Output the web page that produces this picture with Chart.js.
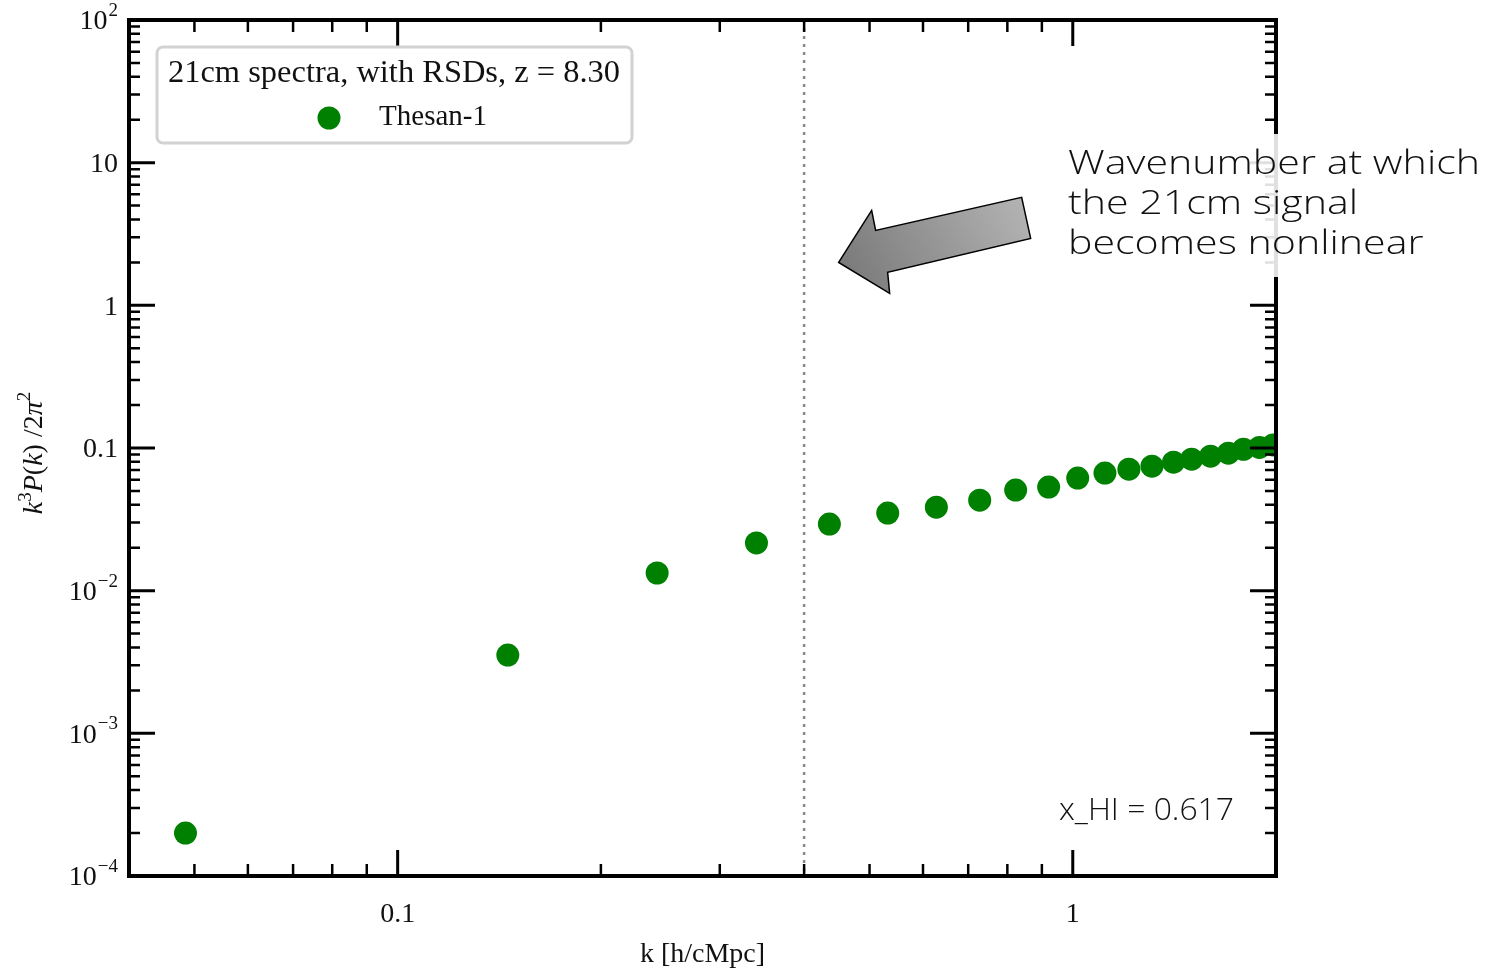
<!DOCTYPE html>
<html>
<head>
<meta charset="utf-8">
<script src="https://cdn.jsdelivr.net/npm/chart.js"></script>
<style>
  html, body { margin: 0; padding: 0; background: #fff; }
  #wrap { width: 1489px; height: 973px; }
</style>
</head>
<body>
<div id="wrap"><canvas id="psChart"></canvas></div>
<script>
// values
const kValues = [0.0485, 0.1456, 0.2423, 0.340, 0.436, 0.532, 0.628, 0.728, 0.823, 0.921,
                 1.017, 1.116, 1.211, 1.31, 1.41, 1.50, 1.60, 1.70, 1.79, 1.89, 1.98];
const powerValues = [2.0e-4, 3.54e-3, 0.0133, 0.0216, 0.0293, 0.035, 0.0385, 0.0431, 0.0507, 0.0532,
                     0.0615, 0.0667, 0.0711, 0.0746, 0.0796, 0.0835, 0.0877, 0.092, 0.098, 0.101, 0.105];
const xTickValues = [0.1, 1];
const xTickLabels = ['0.1', '1'];
const yTickValues = [1e-4, 1e-3, 1e-2, 0.1, 1, 10, 100];
const yTickLabels = [['10', '−4'], ['10', '−3'], ['10', '−2'], ['0.1', ''], ['1', ''], ['10', ''], ['10', '2']];
const nonlinearK = 0.4;
const arrowTip = { k: 0.45, p: 2.0 };
const seriesName = 'Thesan-1';
const legendTitle = '21cm spectra, with RSDs, z = 8.30';
const noteLines = ['Wavenumber at which', 'the 21cm signal', 'becomes nonlinear'];
const xhiText = 'x_HI = 0.617';

const SERIF = '"Liberation Serif", "DejaVu Serif", serif';
const SANS = '"Open Sans", "DejaVu Sans", sans-serif';

// pick a font size so the text spans the wanted width
function fitFont(ctx, text, family, width, style) {
    ctx.font = (style || '') + ' 100px ' + family;
    const size = 100 * width / ctx.measureText(text).width;
    return (style || '') + ' ' + size.toFixed(1) + 'px ' + family;
}

// draw text at a fixed size, squeezed or stretched sideways to a width
function fillStretched(ctx, text, x, y, font, sx) {
    ctx.save();
    ctx.font = font;
    ctx.translate(x, y);
    ctx.scale(sx, 1);
    ctx.fillText(text, 0, 0);
    ctx.restore();
}

function logTicks(min, max) {
    const out = [];
    for (let e = Math.floor(Math.log10(min)); e <= Math.ceil(Math.log10(max)); e++) {
        for (let m = 1; m <= 9; m++) {
            const v = m * Math.pow(10, e);
            if (v >= min * 0.999 && v <= max * 1.001) out.push({ v: v, major: m === 1 });
        }
    }
    return out;
}

const framePlugin = {
    id: 'frame',
    beforeDatasetsDraw(chart) {
        const { ctx, chartArea: a, scales } = chart;
        // dotted line where the signal becomes nonlinear
        const xl = scales.x.getPixelForValue(nonlinearK);
        ctx.save();
        ctx.strokeStyle = '#8a8a8a';
        ctx.lineWidth = 2.5;
        ctx.setLineDash([3, 5]);
        ctx.beginPath();
        ctx.moveTo(xl, a.top);
        ctx.lineTo(xl, a.bottom);
        ctx.stroke();
        ctx.restore();
    },
    afterDatasetsDraw(chart) {
        const { ctx, chartArea: a, scales } = chart;
        const x = scales.x, y = scales.y;
        ctx.save();

        // inward ticks on all four sides
        ctx.strokeStyle = '#000';
        logTicks(x.min, x.max).forEach(t => {
            const px = x.getPixelForValue(t.v);
            const len = t.major ? 26 : 12;
            ctx.lineWidth = t.major ? 3 : 2.5;
            ctx.beginPath();
            ctx.moveTo(px, a.bottom); ctx.lineTo(px, a.bottom - len);
            ctx.moveTo(px, a.top); ctx.lineTo(px, a.top + len);
            ctx.stroke();
        });
        logTicks(y.min, y.max).forEach(t => {
            const py = y.getPixelForValue(t.v);
            const len = t.major ? 26 : 11;
            ctx.lineWidth = t.major ? 3 : 2.5;
            ctx.beginPath();
            ctx.moveTo(a.left, py); ctx.lineTo(a.left + len, py);
            ctx.moveTo(a.right, py); ctx.lineTo(a.right - len, py);
            ctx.stroke();
        });

        // frame
        ctx.lineWidth = 4;
        ctx.strokeRect(a.left, a.top, a.right - a.left, a.bottom - a.top);

        // tick labels
        ctx.fillStyle = '#111';
        ctx.textBaseline = 'middle';
        ctx.textAlign = 'center';
        ctx.font = '28px ' + SERIF;
        xTickValues.forEach((v, i) => {
            ctx.fillText(xTickLabels[i], x.getPixelForValue(v), a.bottom + 39);
        });
        ctx.textAlign = 'left';
        const labelRight = a.left - 11;
        yTickValues.forEach((v, i) => {
            const py = y.getPixelForValue(v);
            const [base, sup] = yTickLabels[i];
            ctx.font = '19px ' + SERIF;
            const ws = sup ? ctx.measureText(sup).width + 1 : 0;
            ctx.font = '28px ' + SERIF;
            const wb = ctx.measureText(base).width;
            ctx.fillText(base, labelRight - ws - wb, py + 2);
            if (sup) {
                ctx.font = '19px ' + SERIF;
                ctx.fillText(sup, labelRight - ws + 1, py - 9);
            }
        });

        // axis titles
        ctx.textAlign = 'center';
        ctx.font = '28px ' + SERIF;
        ctx.fillText('k [h/cMpc]', (a.left + a.right) / 2, 955);

        const parts = [
            ['k', 'italic 28px', 0], ['3', '19px', -9], ['P', 'italic 28px', 0], ['(', '28px', 0],
            ['k', 'italic 28px', 0], [')', '28px', 0], [' /', '28px', 0], ['2', '28px', 0],
            ['π', 'italic 28px', 0], ['2', '19px', -10]
        ];
        let total = 0;
        parts.forEach(p => { ctx.font = p[1] + ' ' + SERIF; total += ctx.measureText(p[0]).width; });
        ctx.save();
        ctx.translate(35, (a.top + a.bottom) / 2 + 5);
        ctx.rotate(-Math.PI / 2);
        ctx.textAlign = 'left';
        let cx = -total / 2;
        parts.forEach(p => {
            ctx.font = p[1] + ' ' + SERIF;
            ctx.fillText(p[0], cx, p[2]);
            cx += ctx.measureText(p[0]).width;
        });
        ctx.restore();

        // legend box
        const lg = { l: 157, t: 47, r: 632, b: 143 };
        ctx.beginPath();
        ctx.roundRect(lg.l, lg.t, lg.r - lg.l, lg.b - lg.t, 6);
        ctx.fillStyle = 'rgba(255,255,255,0.85)';
        ctx.fill();
        ctx.strokeStyle = '#d2d2d2';
        ctx.lineWidth = 3;
        ctx.stroke();
        ctx.fillStyle = '#111';
        ctx.textAlign = 'left';
        ctx.font = '31px ' + SERIF;
        fillStretched(ctx, legendTitle, 168, 74, '31px ' + SERIF, 452 / ctx.measureText(legendTitle).width);
        ctx.beginPath();
        ctx.arc(329, 118, 11.5, 0, Math.PI * 2);
        ctx.fillStyle = chart.data.datasets[0].backgroundColor;
        ctx.fill();
        ctx.fillStyle = '#111';
        ctx.font = '29px ' + SERIF;
        fillStretched(ctx, seriesName, 379, 117, '29px ' + SERIF, 108 / ctx.measureText(seriesName).width);

        // arrow pointing at the nonlinear scale
        const tx = x.getPixelForValue(arrowTip.k), ty = y.getPixelForValue(arrowTip.p);
        const shape = [[0, 0], [33, -52], [37, -32], [183, -65], [192, -24], [49, 10], [51, 31]];
        const grad = ctx.createLinearGradient(tx + 20, ty + 30, tx + 190, ty - 65);
        grad.addColorStop(0, '#7b7b7b');
        grad.addColorStop(1, '#b5b5b5');
        ctx.beginPath();
        shape.forEach((s, i) => i ? ctx.lineTo(tx + s[0], ty + s[1]) : ctx.moveTo(tx + s[0], ty + s[1]));
        ctx.closePath();
        ctx.fillStyle = grad;
        ctx.fill();
        ctx.strokeStyle = '#000';
        ctx.lineWidth = 1.5;
        ctx.stroke();

        // annotation text with a white backing box
        ctx.fillStyle = 'rgba(255,255,255,0.88)';
        ctx.fillRect(1062, 134, 427, 143);
        ctx.fillStyle = '#111';
        ctx.textBaseline = 'alphabetic';
        const noteFont = '300 33px ' + SANS;
        ctx.font = noteFont;
        const noteScale = 412 / ctx.measureText(noteLines[0]).width;
        noteLines.forEach((line, i) => fillStretched(ctx, line, 1068, 174 + 40 * i, noteFont, noteScale));

        const xhiFont = '300 31px ' + SANS;
        ctx.font = xhiFont;
        const xhiW = ctx.measureText(xhiText).width;
        fillStretched(ctx, xhiText, 1234 - 175, 820, xhiFont, 175 / xhiW);

        ctx.restore();
    }
};

new Chart(document.getElementById('psChart').getContext('2d'), {
    type: 'scatter',
    data: {
        datasets: [{
            label: seriesName,
            data: kValues.map((k, i) => ({ x: k, y: powerValues[i] })),
            backgroundColor: '#008000',
            borderWidth: 0,
            pointRadius: 11.5,
            clip: 0
        }]
    },
    options: {
        responsive: true,
        maintainAspectRatio: false,
        animation: false,
        layout: { padding: { left: 129, top: 20, right: 213, bottom: 97 } },
        plugins: { legend: { display: false }, tooltip: { enabled: false } },
        scales: {
            x: { type: 'logarithmic', min: 0.04, max: 2.0, display: false },
            y: { type: 'logarithmic', min: 1e-4, max: 100, display: false }
        }
    },
    plugins: [framePlugin]
});
</script>
</body>
</html>
